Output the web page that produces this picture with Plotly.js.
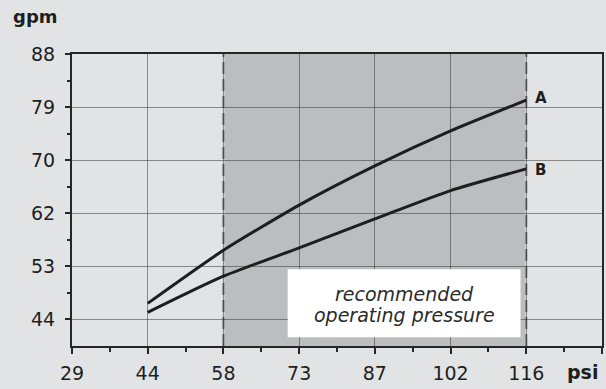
<!DOCTYPE html>
<html>
<head>
<meta charset="utf-8">
<script src="https://cdn.plot.ly/plotly-3.0.1.min.js"></script>
<style>html,body{margin:0;padding:0;background:#e2e3e5;}#chart{width:606px;height:389px;}</style>
</head>
<body>
<div id="chart"></div>
<script>
// Pressure (psi) and flow (gpm)
const psi = [43.5, 58, 72.5, 87, 101.5, 116];
const flowA = [46.7, 55.5, 63.0, 69.5, 75.3, 80.4];
const flowB = [45.2, 51.2, 55.9, 60.7, 65.4, 69.0];
const seriesNames = ['A', 'B'];

// Axis ticks (x in psi, y in gpm – evenly spaced metric conversions)
const xTickVals = [29, 43.5, 58, 72.5, 87, 101.5, 116, 130.5];
const xTickText = ['29', '44', '58', '73', '87', '102', '116', ''];
const yTickVals = [44.03, 52.83, 61.64, 70.44, 79.25, 88.06];
const yTickText = ['44', '53', '62', '70', '79', '88'];
const recommendedRange = [58, 116];
const noteLines = ['recommended', 'operating pressure'];

const mids = a => a.slice(0, -1).map((v, i) => (v + a[i + 1]) / 2);
const yStep = yTickVals[1] - yTickVals[0];
const yRange = [yTickVals[0] - yStep / 2, yTickVals[yTickVals.length - 1]];
const yMinorVals = mids(yTickVals);

const FONT = 'DejaVu Sans, sans-serif';
const INK = '#1e1e1e';

const traces = [flowA, flowB].map((ys, i) => ({
  x: psi, y: ys, type: 'scatter', mode: 'lines', name: seriesNames[i],
  line: {color: INK, width: 3, shape: 'spline', smoothing: 0.6},
  hoverinfo: 'skip'
}));

const layout = {
  width: 606, height: 389,
  margin: {l: 72, r: 4, t: 54, b: 43},
  paper_bgcolor: '#e2e3e5', plot_bgcolor: '#e2e3e5',
  showlegend: false,
  font: {family: FONT, color: INK},
  xaxis: {
    range: [xTickVals[0], xTickVals[xTickVals.length - 1]],
    tickmode: 'array', tickvals: xTickVals, ticktext: xTickText,
    showline: true, linecolor: '#262626', linewidth: 2, mirror: true,
    ticks: 'outside', ticklen: 6, tickwidth: 2, tickcolor: '#262626',
    showgrid: true, gridcolor: 'rgba(45,45,45,0.5)', gridwidth: 1,
    zeroline: false, fixedrange: true,
    tickfont: {family: FONT, size: 19, color: INK},
    ticklabelstandoff: 3,
    minor: {tickvals: mids(xTickVals), ticks: 'outside', ticklen: 4, tickwidth: 2, tickcolor: '#262626', showgrid: false}
  },
  yaxis: {
    range: yRange,
    tickmode: 'array', tickvals: yTickVals, ticktext: yTickText,
    showline: true, linecolor: '#262626', linewidth: 2, mirror: true,
    ticks: 'outside', ticklen: 5, tickwidth: 2, tickcolor: '#262626',
    showgrid: true, gridcolor: 'rgba(45,45,45,0.5)', gridwidth: 1,
    zeroline: false, fixedrange: true,
    tickfont: {family: FONT, size: 19, color: INK},
    ticklabelstandoff: 6,
    minor: {tickvals: yMinorVals, ticks: 'outside', ticklen: 3, tickwidth: 2, tickcolor: '#262626', showgrid: false}
  },
  shapes: [
    {type: 'rect', xref: 'x', yref: 'paper', x0: recommendedRange[0], x1: recommendedRange[1], y0: 0, y1: 1,
     fillcolor: '#bcbdc0', line: {width: 0}, layer: 'below'},
    ...recommendedRange.map(v => ({type: 'line', xref: 'x', yref: 'paper', x0: v, x1: v, y0: 0, y1: 1,
     line: {color: '#dcdcdd', width: 2}, layer: 'between'})),
    ...recommendedRange.map(v => ({type: 'line', xref: 'x', yref: 'paper', x0: v, x1: v, y0: 0, y1: 1,
     line: {color: '#6c6c6c', width: 2, dash: '12px,5px'}, layer: 'between'})),
    {type: 'rect', xref: 'x', yref: 'paper', x0: 70.3, x1: 114.9, y0: 0.03, y1: 0.263,
     fillcolor: '#ffffff', line: {width: 0}, layer: 'above'}
  ],
  annotations: [
    {text: '<b>gpm</b>', xref: 'paper', yref: 'paper', x: -0.116, y: 1.13, xanchor: 'left', yanchor: 'middle',
     showarrow: false, font: {family: FONT, size: 18, color: INK}},
    {text: '<b>psi</b>', xref: 'paper', yref: 'paper', x: 0.964, y: -0.088, xanchor: 'center', yanchor: 'middle',
     showarrow: false, font: {family: FONT, size: 19, color: INK}},
    {text: '<b>' + seriesNames[0] + '</b>', xref: 'x', yref: 'y', x: psi[psi.length - 1], y: flowA[flowA.length - 1],
     xanchor: 'left', yanchor: 'middle', xshift: 7, yshift: 2, showarrow: false, font: {family: FONT, size: 15, color: INK}},
    {text: '<b>' + seriesNames[1] + '</b>', xref: 'x', yref: 'y', x: psi[psi.length - 1], y: flowB[flowB.length - 1],
     xanchor: 'left', yanchor: 'middle', xshift: 7, yshift: -1, showarrow: false, font: {family: FONT, size: 15, color: INK}},
    {text: '<i>' + noteLines[0] + '</i>', xref: 'x', yref: 'paper', x: 92.6, y: 0.177, xanchor: 'center', yanchor: 'middle',
     showarrow: false, font: {family: FONT, size: 19, color: '#2a2a2a'}},
    {text: '<i>' + noteLines[1] + '</i>', xref: 'x', yref: 'paper', x: 92.6, y: 0.105, xanchor: 'center', yanchor: 'middle',
     showarrow: false, font: {family: FONT, size: 19, color: '#2a2a2a'}}
  ]
};

Plotly.newPlot('chart', traces, layout, {staticPlot: true, displayModeBar: false});
</script>
</body>
</html>
